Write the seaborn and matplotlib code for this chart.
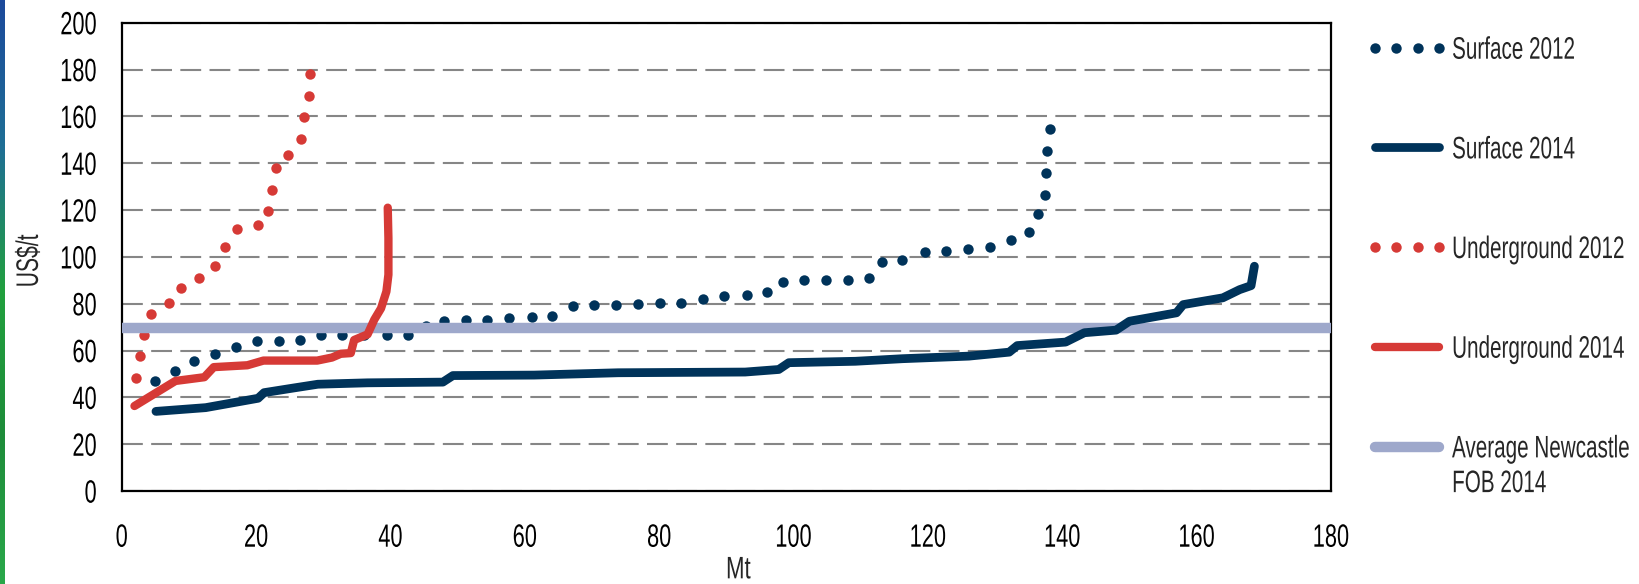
import numpy as np
import pandas as pd
import seaborn as sns
import matplotlib.pyplot as plt
from matplotlib.colors import LinearSegmentedColormap
from matplotlib.patheffects import AbstractPathEffect
from matplotlib.transforms import Affine2D
from matplotlib.legend_handler import HandlerLine2D

# cost curve data (Mt, US$/t)
s12_x = [5.0, 7.9, 10.8, 13.9, 17.0, 20.1, 23.4, 26.6, 29.7, 32.8, 36.1, 39.5, 42.6, 45.3,
         47.9, 51.2, 54.4, 57.7, 61.0, 64.1, 67.1, 70.3, 73.6, 76.8, 80.1, 83.3, 86.5, 89.7,
         93.0, 96.1, 98.4, 101.6, 104.9, 108.1, 111.3, 113.2, 116.2, 119.5, 122.7, 126.0,
         129.2, 132.3, 135.1, 136.4, 137.4, 137.6, 137.8, 138.1]
s12_y = [47.0, 51.3, 55.4, 58.6, 61.3, 64.0, 64.2, 64.6, 66.6, 66.6, 66.6, 66.6, 66.8, 70.4,
         72.5, 72.9, 73.2, 73.7, 74.4, 74.9, 78.9, 79.3, 79.6, 79.9, 80.1, 80.2, 82.2, 83.4,
         83.6, 85.1, 89.3, 90.0, 90.3, 90.3, 91.0, 97.9, 98.8, 102.0, 102.6, 103.2,
         104.1, 107.1, 110.8, 118.2, 126.6, 136.0, 145.4, 154.6]

s14_x = [5.1, 12.5, 20.3, 21.2, 25.6, 29.2, 36.6, 47.8, 49.3, 61.4, 73.9, 92.8, 97.8, 99.3,
         109.2, 116.2, 126.1, 132.1, 133.3, 140.5, 143.3, 148.0, 150.0, 157.0, 158.0, 163.9,
         166.4, 168.1, 168.6]
s14_y = [34.0, 35.6, 39.6, 42.0, 44.0, 45.6, 46.2, 46.5, 49.3, 49.5, 50.5, 50.8, 51.9, 54.8,
         55.4, 56.5, 57.6, 59.3, 62.1, 63.6, 67.6, 68.7, 72.5, 76.1, 79.6, 82.5,
         86.0, 87.7, 96.0]

u12_x = [2.1, 2.7, 3.3, 4.3, 7.1, 8.8, 11.5, 13.9, 15.4, 17.2, 20.3, 21.8, 22.4, 22.9, 24.8,
         26.7, 27.1, 27.9, 28.1]
u12_y = [48.2, 57.6, 66.6, 75.6, 80.3, 86.9, 90.8, 96.0, 104.3, 111.8, 113.4, 119.4, 128.7,
         138.1, 143.3, 150.2, 159.6, 168.5, 178.0]

u14_x = [1.9, 8.0, 12.3, 13.7, 18.7, 21.1, 29.1, 31.3, 32.6, 34.1, 34.6, 36.6, 37.6, 38.6,
         39.4, 39.7, 39.7, 39.6]
u14_y = [36.3, 47.0, 48.6, 52.9, 53.7, 55.7, 55.7, 57.0, 58.6, 58.9, 64.5, 66.9, 73.2, 78.0,
         85.2, 92.4, 108.0, 121.0]

newcastle_fob = 69.5

labels = ['Surface 2012', 'Surface 2014', 'Underground 2012', 'Underground 2014',
          'Average Newcastle\nFOB 2014']
navy = '#00335a'
red = '#d63a36'
lavender = '#9ea8cb'


class Squash(AbstractPathEffect):
    """draw text glyphs taller/narrower, like the condensed font of the original"""
    def __init__(self, sx=1.0, sy=1.36, anchor='center'):
        super().__init__()
        self.sx, self.sy, self.anchor = sx, sy, anchor

    def draw_path(self, renderer, gc, tpath, affine, rgbFace=None):
        ext = tpath.get_extents()
        px = {'left': ext.x0, 'right': ext.x1}.get(self.anchor, (ext.x0 + ext.x1) / 2)
        py = 36.0
        t = Affine2D().translate(-px, -py).scale(self.sx, self.sy).translate(px, py)
        renderer.draw_path(gc, tpath, t + affine, rgbFace)


class UpperHandler(HandlerLine2D):
    """put the legend line next to the first line of a two-line label"""
    def __init__(self, shift, **kw):
        super().__init__(**kw)
        self.shift = shift

    def create_artists(self, legend, orig_handle, xdescent, ydescent, width, height, fontsize, trans):
        arts = super().create_artists(legend, orig_handle, xdescent, ydescent, width, height,
                                      fontsize, trans)
        for a in arts:
            a.set_ydata(np.asarray(a.get_ydata(), float) + self.shift)
        return arts


sns.set_style('white')
plt.rcParams['font.family'] = ['Liberation Sans', 'DejaVu Sans']
fs = 16

fig = plt.figure(figsize=(16.39, 5.84), dpi=100)
ax = fig.add_axes([121.7 / 1639, 1 - 491.0 / 584, (1331 - 121.7) / 1639, 468.3 / 584])

# blue/green strip on the left edge
strip = fig.add_axes([0, 0, 4.5 / 1639, 1])
cmap = LinearSegmentedColormap.from_list('strip', ['#1c4a9c', '#1f6f95', '#22a03e', '#1e8c3a', '#2aa84a'])
strip.imshow(np.linspace(0, 1, 200).reshape(-1, 1), aspect='auto', cmap=cmap)
strip.axis('off')

sns.lineplot(x=s12_x, y=s12_y, ax=ax, sort=False, estimator=None, color=navy,
             linestyle='none', marker='o', ms=7.5, mec=navy, mew=0, label=labels[0], zorder=2)
sns.lineplot(x=u12_x, y=u12_y, ax=ax, sort=False, estimator=None, color=red,
             linestyle='none', marker='o', ms=7.5, mec=red, mew=0, label=labels[2], zorder=2)
fob_line = ax.axhline(newcastle_fob, color=lavender, lw=7.5, label=labels[4], zorder=3,
                      solid_capstyle='round')
sns.lineplot(x=s14_x, y=s14_y, ax=ax, sort=False, estimator=None, color=navy, lw=6.3,
             solid_capstyle='round', solid_joinstyle='round', label=labels[1], zorder=4)
sns.lineplot(x=u14_x, y=u14_y, ax=ax, sort=False, estimator=None, color=red, lw=6.0,
             solid_capstyle='round', solid_joinstyle='round', label=labels[3], zorder=5)

ax.set_xlim(0, 180)
ax.set_ylim(0, 200)
ax.set_xticks(range(0, 181, 20))
ax.set_yticks(range(0, 201, 20))
ax.yaxis.grid(True, linestyle=(0, (10, 4)), color='#868686', lw=1.5, zorder=0)
ax.xaxis.grid(False)
for sp in ax.spines.values():
    sp.set_visible(True)
    sp.set_color('black')
    sp.set_linewidth(1.6)
ax.tick_params(axis='both', direction='in', length=7, width=1.5, colors='black', labelsize=fs)
ax.tick_params(axis='y', pad=18)
ax.tick_params(axis='x', pad=26)

ax.set_xlabel('Mt', size=fs, va='top')
ax.set_ylabel('US$/t', size=fs, va='center')
ax.xaxis.set_label_coords(0.51, -0.1455)
ax.yaxis.set_label_coords(-0.0765, 0.4915)

for lab in ax.get_yticklabels():
    lab.set_path_effects([Squash(0.98, 1.45, 'right')])
for lab in ax.get_xticklabels():
    lab.set_path_effects([Squash(0.98, 1.45, 'center')])
ax.xaxis.label.set_path_effects([Squash(1.0, 1.4, 'center')])
ax.yaxis.label.set_path_effects([Squash(0.95, 1.4, 'center')])

handles, labs = ax.get_legend_handles_labels()
order = [labs.index(l) for l in labels]
leg = ax.legend([handles[i] for i in order], [labs[i] for i in order],
                loc='upper left', bbox_to_anchor=(1368 / 1639, 1 - 39.5 / 584),
                bbox_transform=fig.transFigure, frameon=False, borderpad=0, borderaxespad=0,
                handlelength=3.51, handletextpad=0.27, labelspacing=3.54, numpoints=4,
                fontsize=fs, handler_map={fob_line: UpperHandler(13.8)})
for t in leg.get_texts():
    t.set_linespacing(1.86)
    t.set_path_effects([Squash(0.93, 1.4, 'left')])

fig.savefig('out.png', dpi=100)
